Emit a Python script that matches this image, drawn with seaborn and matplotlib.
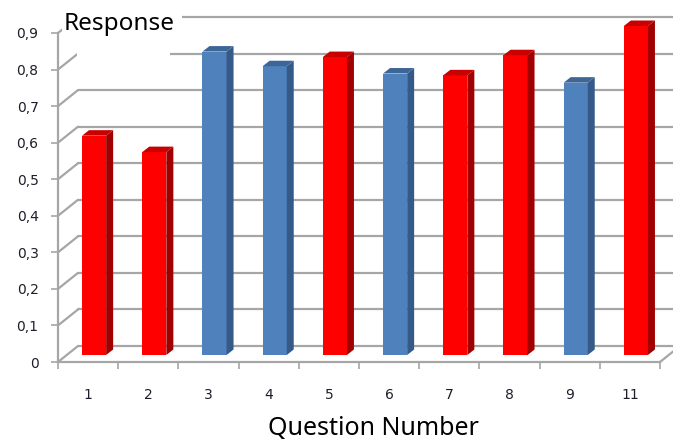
import numpy as np
import pandas as pd
import matplotlib
matplotlib.use("Agg")
import matplotlib.pyplot as plt
from matplotlib.patches import Polygon, Rectangle
from matplotlib.lines import Line2D
from matplotlib.transforms import ScaledTranslation, IdentityTransform
import seaborn as sns

# Survey results
questions = ["1", "2", "3", "4", "5", "6", "7", "8", "9", "11"]
responses = [0.60, 0.555, 0.83, 0.79, 0.815, 0.77, 0.765, 0.82, 0.745, 0.90]
groups = ["A", "A", "B", "B", "A", "B", "A", "A", "B", "A"]
y_ticks = [0.0, 0.1, 0.2, 0.3, 0.4, 0.5, 0.6, 0.7, 0.8, 0.9]
y_tick_labels = ["0", "0,1", "0,2", "0,3", "0,4", "0,5", "0,6", "0,7", "0,8", "0,9"]

front = {"A": "#FF0000", "B": "#4F81BD"}
side = {"A": "#A00000", "B": "#355A88"}
top = {"A": "#C80000", "B": "#3D6697"}

df = pd.DataFrame({"question": questions, "response": responses, "group": groups})

sns.set_theme(style="white")
plt.rcParams["font.family"] = ["Noto Sans", "DejaVu Sans"]

W, H, DPI = 673, 440, 100
fig = plt.figure(figsize=(W / DPI, H / DPI), dpi=DPI)
fig.patch.set_facecolor("white")

# front plane of the plot (pixel geometry)
x0, x1, y0, y1 = 58, 660, 362, 33
ax = fig.add_axes([x0 / W, (H - y0) / H, (x1 - x0) / W, (y0 - y1) / H])
ax.set_facecolor("none")

sns.barplot(data=df, x="question", y="response", hue="group", palette=front,
            dodge=False, width=0.4, saturation=1, legend=False, ax=ax,
            order=questions)
ax.set_xlim(-0.5, len(questions) - 0.5)
ax.set_ylim(0, 0.9)

grid_c = "#A6A6A6"
wall_dx, wall_dy = 20, 16      # back wall offset in pixels
bar_dx, bar_dy = 6, 7          # bar row offset in pixels
dep_dx, dep_dy = 7, 5.5        # bar depth in pixels

def px(x, y):
    return ax.transData.transform((x, y))

ident = IdentityTransform()

# back wall gridlines and the diagonals joining them to the front axis
for t in y_ticks:
    fx, fy = px(-0.5, t)
    ax.add_line(Line2D([fx, fx + wall_dx], [fy, fy + wall_dy], color=grid_c,
                       lw=1.6, transform=ident, clip_on=False, zorder=0.5))
    rx, _ = px(len(questions) - 0.5, t)
    ax.add_line(Line2D([fx + wall_dx, rx + wall_dx], [fy + wall_dy, fy + wall_dy],
                       color=grid_c, lw=1.6, transform=ident, clip_on=False,
                       zorder=0.5))

# right floor edge
rx, ry = px(len(questions) - 0.5, 0)
ax.add_line(Line2D([rx, rx + wall_dx], [ry, ry + wall_dy], color=grid_c, lw=1.6,
                   transform=ident, clip_on=False, zorder=0.5))

# shift bars into the middle of the floor and add their side and top faces
shift = ScaledTranslation(bar_dx / DPI, bar_dy / DPI, fig.dpi_scale_trans)
bars = [p for p in ax.patches if p.get_height() > 0]
for bar in bars:
    bx = bar.get_x()
    bw = bar.get_width()
    idx = int(round(bx + bw / 2))
    g = groups[idx]
    v = bar.get_height()
    (lx, by), (rx2, ty) = px(bx, 0), px(bx + bw, v)
    lx += bar_dx; rx2 += bar_dx; by += bar_dy; ty += bar_dy
    bar.set_transform(ax.transData + shift)
    bar.set_clip_on(False)
    bar.set_edgecolor("none")
    bar.set_zorder(3)
    ax.add_patch(Polygon([[rx2, by], [rx2 + dep_dx, by + dep_dy],
                          [rx2 + dep_dx, ty + dep_dy], [rx2, ty]],
                         closed=True, facecolor=side[g], edgecolor="none",
                         transform=ident, clip_on=False, zorder=3))
    ax.add_patch(Polygon([[lx, ty], [lx + dep_dx, ty + dep_dy],
                          [rx2 + dep_dx, ty + dep_dy], [rx2, ty]],
                         closed=True, facecolor=top[g], edgecolor="none",
                         transform=ident, clip_on=False, zorder=3))

# axes styling
for s in ["top", "right"]:
    ax.spines[s].set_visible(False)
for s in ["left", "bottom"]:
    ax.spines[s].set_color(grid_c)
    ax.spines[s].set_linewidth(1.6)

txt_c = "#1E1E2A"
ax.set_yticks(y_ticks)
ax.set_yticklabels(y_tick_labels, fontsize=10, color=txt_c, family="DejaVu Sans")
ax.tick_params(axis="y", which="major", left=True, length=5, width=1.2,
               color=grid_c, pad=9)

ax.set_xticks(range(len(questions)))
ax.set_xticklabels(questions, fontsize=10, color=txt_c, family="DejaVu Sans")
ax.set_xticks(np.arange(-0.5, len(questions)), minor=True)
ax.tick_params(axis="x", which="major", length=0, pad=19)
ax.tick_params(axis="x", which="minor", bottom=True, length=5, width=1.2,
               color=grid_c)
ax.set_xlabel("")
ax.set_ylabel("")

# white panel behind the title
fig.patches.append(Rectangle((62 / W, (H - 34) / H), (182 - 62) / W, 34 / H,
                             transform=fig.transFigure, facecolor="white",
                             edgecolor="none", zorder=1))
fig.patches.append(Rectangle((77 / W, (H - 57) / H), (170 - 77) / W, 23 / H,
                             transform=fig.transFigure, facecolor="white",
                             edgecolor="none", zorder=1))

fig.text(64 / W, (H - 30) / H, "Response", fontsize=17.5, color="black",
         ha="left", va="baseline", zorder=2)
fig.text(373 / W, (H - 435) / H, "Question Number", fontsize=18, color="black",
         ha="center", va="baseline", zorder=2)

fig.savefig("out.png", dpi=DPI, facecolor="white")
